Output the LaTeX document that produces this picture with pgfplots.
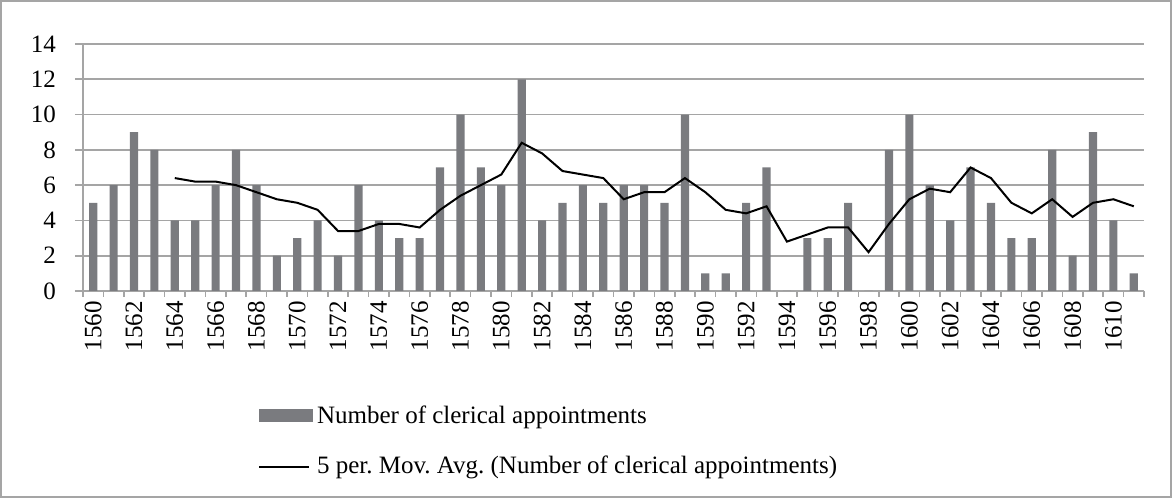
\documentclass[border=0pt]{standalone}
\usepackage{pgfplots}
\pgfplotsset{compat=1.18}
\usepackage{fontspec}
\setmainfont{Liberation Serif}
\definecolor{bargray}{RGB}{122,123,127}
\definecolor{gridgray}{RGB}{165,165,165}
\begin{document}
\frenchspacing
\begin{tikzpicture}
\draw[gridgray, line width=0.8pt] (0.4pt,0.4pt) rectangle (585.6pt,248.6pt);
\begin{axis}[
  at={(41.5pt,103.5pt)}, anchor=south west,
  scale only axis, width=530.5pt, height=123.5pt,
  xmin=1559.5, xmax=1611.5, ymin=0, ymax=14,
  ytick={0,2,...,14},
  xtick={1560,1562,...,1610},
  minor xtick={1559.5,1560.5,...,1611.5},
  axis x line*=bottom, axis y line*=left,
  tick align=outside,
  major x tick style={draw=none},
  minor tick length=3pt, major tick length=4pt,
  ymajorgrids, grid style={gridgray, line width=0.8pt},
  axis line style={gridgray, line width=0.8pt},
  tick style={gridgray, line width=0.8pt},
  /pgf/number format/assume math mode=true,
  /pgf/number format/1000 sep={},
  tick label style={font=\fontsize{12.5}{13}\selectfont, text=black},
  xticklabel style={rotate=90, anchor=east, inner sep=1pt},
  yticklabel style={xshift=-6pt},
  legend cell align=left,
  legend style={draw=none, fill=none, at={(0.159,-0.43)}, anchor=north west,
    row sep=11pt, font=\fontsize{12.5}{13}\selectfont\frenchspacing},
]
\addplot[ybar, bar width=0.4, fill=bargray, draw=none,
  legend image code/.code={\fill[bargray] (0pt,-3.25pt) rectangle (27pt,3.25pt);}]
  coordinates {
  (1560,5) (1561,6) (1562,9) (1563,8) (1564,4) (1565,4) (1566,6) (1567,8)
  (1568,6) (1569,2) (1570,3) (1571,4) (1572,2) (1573,6) (1574,4) (1575,3)
  (1576,3) (1577,7) (1578,10) (1579,7) (1580,6) (1581,12) (1582,4) (1583,5)
  (1584,6) (1585,5) (1586,6) (1587,6) (1588,5) (1589,10) (1590,1) (1591,1)
  (1592,5) (1593,7) (1594,0) (1595,3) (1596,3) (1597,5) (1598,0) (1599,8)
  (1600,10) (1601,6) (1602,4) (1603,7) (1604,5) (1605,3) (1606,3) (1607,8)
  (1608,2) (1609,9) (1610,4) (1611,1)};
\addlegendentry{Number of clerical appointments}
\addplot[black, line width=1pt, mark=none,
  legend image code/.code={\draw[black, line width=1pt] (0pt,0pt) -- (25pt,0pt);}]
  coordinates {
  (1564,6.4) (1565,6.2) (1566,6.2) (1567,6.0) (1568,5.6) (1569,5.2) (1570,5.0)
  (1571,4.6) (1572,3.4) (1573,3.4) (1574,3.8) (1575,3.8) (1576,3.6) (1577,4.6)
  (1578,5.4) (1579,6.0) (1580,6.6) (1581,8.4) (1582,7.8) (1583,6.8) (1584,6.6)
  (1585,6.4) (1586,5.2) (1587,5.6) (1588,5.6) (1589,6.4) (1590,5.6) (1591,4.6)
  (1592,4.4) (1593,4.8) (1594,2.8) (1595,3.2) (1596,3.6) (1597,3.6) (1598,2.2)
  (1599,3.8) (1600,5.2) (1601,5.8) (1602,5.6) (1603,7.0) (1604,6.4) (1605,5.0)
  (1606,4.4) (1607,5.2) (1608,4.2) (1609,5.0) (1610,5.2) (1611,4.8)};
\addlegendentry{5 per. Mov. Avg. (Number of clerical appointments)}
\end{axis}
\end{tikzpicture}
\end{document}
